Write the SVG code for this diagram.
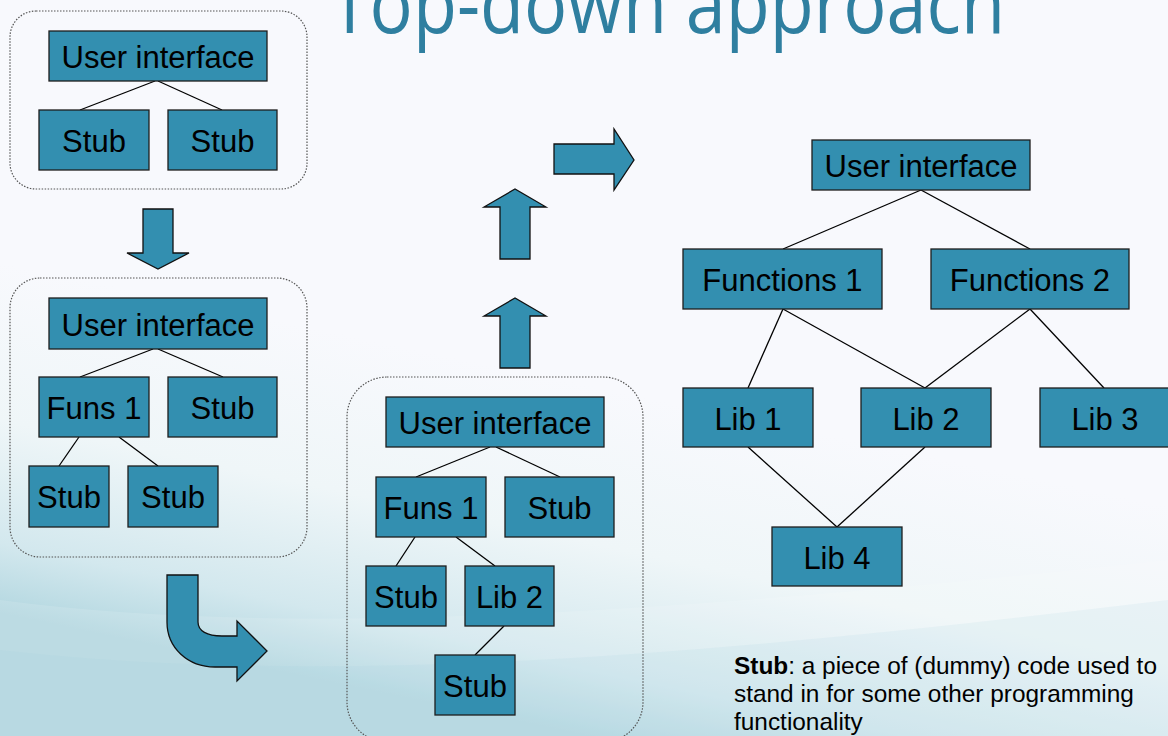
<svg xmlns="http://www.w3.org/2000/svg" width="1168" height="736" viewBox="0 0 1168 736">
<defs>
<linearGradient id="bg" gradientUnits="userSpaceOnUse" x1="660" y1="400" x2="590" y2="736">
<stop offset="0" stop-color="#f8f9fd"/>
<stop offset="0.45" stop-color="#eff6f8"/>
<stop offset="0.8" stop-color="#d3e8ee"/>
<stop offset="1" stop-color="#b3d7e0"/>
</linearGradient>
<style>
.box{fill:#338fb0;stroke:#1e1e1e;stroke-width:1.3}
.lbl{font-family:"Liberation Sans",Arial,sans-serif;font-size:31px;fill:#000;text-anchor:middle}
.con{stroke:#000;stroke-width:1.3;fill:none}
.grp{fill:none;stroke:#555;stroke-width:1.2;stroke-dasharray:1.5 1.5}
.arr{fill:#338fb0;stroke:#111;stroke-width:1.3;stroke-linejoin:miter}
.note{font-family:"Liberation Sans",Arial,sans-serif;font-size:24.4px;fill:#000}
</style>
</defs>
<rect width="1168" height="736" fill="url(#bg)"/>
<path d="M0,600 C300,640 700,610 1168,560 L1168,736 L0,736 Z" fill="#ffffff" opacity="0.12"/>
<path d="M0,650 C350,690 750,650 1168,600 L1168,736 L0,736 Z" fill="#9fcfda" opacity="0.12"/>

<text x="330" y="33" font-family="'Open Sans','DejaVu Sans',sans-serif" font-size="82" fill="#2f7fa0" textLength="675" lengthAdjust="spacingAndGlyphs">Top-down approach</text>

<g id="groups">
<rect class="grp" x="10" y="11" width="297" height="178" rx="26"/>
<rect class="grp" x="10" y="278" width="297" height="279" rx="30"/>
<rect class="grp" x="347" y="377" width="296" height="365" rx="40"/>
</g>

<g id="connectors">
<line class="con" x1="155" y1="81" x2="80" y2="110"/>
<line class="con" x1="158" y1="81" x2="222" y2="110"/>
<line class="con" x1="153" y1="349" x2="80" y2="377"/>
<line class="con" x1="158" y1="349" x2="223" y2="377"/>
<line class="con" x1="79" y1="437" x2="59" y2="466"/>
<line class="con" x1="119" y1="437" x2="158" y2="466"/>
<line class="con" x1="490" y1="447" x2="416" y2="477"/>
<line class="con" x1="496" y1="447" x2="560" y2="477"/>
<line class="con" x1="415" y1="537" x2="396" y2="566"/>
<line class="con" x1="456" y1="537" x2="495" y2="566"/>
<line class="con" x1="504" y1="626" x2="475" y2="655"/>
<line class="con" x1="921" y1="190" x2="783" y2="249"/>
<line class="con" x1="921" y1="190" x2="1030" y2="249"/>
<line class="con" x1="783" y1="309" x2="748" y2="388"/>
<line class="con" x1="783" y1="309" x2="925" y2="388"/>
<line class="con" x1="1030" y1="309" x2="925" y2="388"/>
<line class="con" x1="1030" y1="309" x2="1104" y2="388"/>
<line class="con" x1="748" y1="447" x2="837" y2="527"/>
<line class="con" x1="925" y1="447" x2="837" y2="527"/>
</g>

<g id="arrows">
<path class="arr" d="M143,209 H173 V253 H189 L158,269 L127,253 H143 Z"/>
<path class="arr" d="M500,259 V207 H484 L515,189 L546,207 H530 V259 Z"/>
<path class="arr" d="M500,368 V316 H484 L515,298 L546,316 H530 V368 Z"/>
<path class="arr" d="M554,144 H614 V129 L634,160 L614,190 V174 H554 Z"/>
<path class="arr" d="M167,575 H198 V622 C198,631 207,636 222,636 H237 V621 L267,651 L237,681 V667 H215 C188,667 167,648 167,622 Z"/>
</g>

<g id="c1-ui"><rect class="box" x="49" y="31" width="218" height="50"/><text class="lbl" x="158" y="68">User interface</text></g>
<g id="c1-stub1"><rect class="box" x="39" y="110" width="110" height="60"/><text class="lbl" x="94" y="152">Stub</text></g>
<g id="c1-stub2"><rect class="box" x="168" y="110" width="109" height="60"/><text class="lbl" x="222.5" y="152">Stub</text></g>

<g id="c2-ui"><rect class="box" x="49" y="298" width="218" height="51"/><text class="lbl" x="158" y="336">User interface</text></g>
<g id="c2-funs1"><rect class="box" x="39" y="377" width="110" height="60"/><text class="lbl" x="94" y="419">Funs 1</text></g>
<g id="c2-stub1"><rect class="box" x="168" y="377" width="109" height="60"/><text class="lbl" x="222.5" y="419">Stub</text></g>
<g id="c2-stub2"><rect class="box" x="29" y="466" width="80" height="61"/><text class="lbl" x="69" y="508">Stub</text></g>
<g id="c2-stub3"><rect class="box" x="128" y="466" width="90" height="61"/><text class="lbl" x="173" y="508">Stub</text></g>

<g id="c3-ui"><rect class="box" x="386" y="397" width="218" height="50"/><text class="lbl" x="495" y="434">User interface</text></g>
<g id="c3-funs1"><rect class="box" x="376" y="477" width="110" height="60"/><text class="lbl" x="431" y="519">Funs 1</text></g>
<g id="c3-stub1"><rect class="box" x="505" y="477" width="109" height="60"/><text class="lbl" x="559.5" y="519">Stub</text></g>
<g id="c3-stub2"><rect class="box" x="366" y="566" width="80" height="60"/><text class="lbl" x="406" y="608">Stub</text></g>
<g id="c3-lib2"><rect class="box" x="465" y="566" width="89" height="60"/><text class="lbl" x="509.5" y="608">Lib 2</text></g>
<g id="c3-stub3"><rect class="box" x="435" y="655" width="80" height="60"/><text class="lbl" x="475" y="697">Stub</text></g>

<g id="r-ui"><rect class="box" x="812" y="140" width="218" height="50"/><text class="lbl" x="921" y="177">User interface</text></g>
<g id="r-f1"><rect class="box" x="683" y="249" width="199" height="60"/><text class="lbl" x="782.5" y="291">Functions 1</text></g>
<g id="r-f2"><rect class="box" x="931" y="249" width="198" height="60"/><text class="lbl" x="1030" y="291">Functions 2</text></g>
<g id="r-lib1"><rect class="box" x="683" y="388" width="130" height="59"/><text class="lbl" x="748" y="429.5">Lib 1</text></g>
<g id="r-lib2"><rect class="box" x="861" y="388" width="130" height="59"/><text class="lbl" x="926" y="429.5">Lib 2</text></g>
<g id="r-lib3"><rect class="box" x="1040" y="388" width="130" height="59"/><text class="lbl" x="1105" y="429.5">Lib 3</text></g>
<g id="r-lib4"><rect class="box" x="772" y="527" width="130" height="59"/><text class="lbl" x="837" y="568.5">Lib 4</text></g>

<text class="note" x="734" y="674"><tspan font-weight="bold">Stub</tspan>: a piece of (dummy) code used to</text>
<text class="note" x="734" y="702">stand in for some other programming</text>
<text class="note" x="734" y="730">functionality</text>
</svg>
